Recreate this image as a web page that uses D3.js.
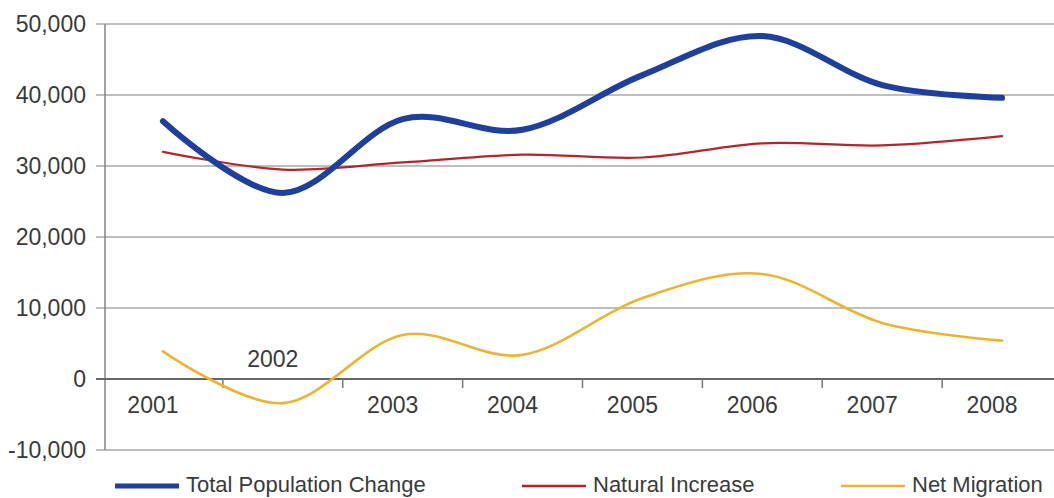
<!DOCTYPE html>
<html>
<head>
<meta charset="utf-8">
<script src="https://cdn.jsdelivr.net/npm/d3@7"></script>
<style>
  body { margin: 0; background: #fff; }
  svg { display: block; font-family: "Liberation Sans", Arial, sans-serif; }
</style>
</head>
<body>
<div class="chart"></div>
<script>
// data
var years = ["2001", "2002", "2003", "2004", "2005", "2006", "2007", "2008"];
var totalChange = [36300, 26200, 36600, 35100, 42800, 48300, 41400, 39600];
var naturalIncrease = [32000, 29500, 30500, 31600, 31200, 33200, 32900, 34200];
var netMigration = [3900, -3400, 6200, 3400, 11400, 14800, 7900, 5400];
var yTicks = [-10000, 0, 10000, 20000, 30000, 40000, 50000];

var svgWidth = 1054, svgHeight = 498;

var svg = d3.select(".chart")
  .append("svg")
  .attr("width", svgWidth)
  .attr("height", svgHeight);

// scales
var xScale = d3.scaleBand()
  .domain(years)
  .range([103, 1062]);

var yScale = d3.scaleLinear()
  .domain([-10000, 50000])
  .range([450, 24]);

// plain hyphen for negatives, like the original
var fmt = d3.formatLocale({ decimal: ".", thousands: ",", grouping: [3], currency: ["", ""], minus: "-" }).format(",");

// horizontal grid lines + y labels
var grid = svg.append("g");
grid.selectAll("line")
  .data(yTicks.filter(d => d !== 0))
  .enter()
  .append("line")
  .attr("x1", 96)
  .attr("x2", svgWidth)
  .attr("y1", d => yScale(d))
  .attr("y2", d => yScale(d))
  .attr("stroke", "#a8a8a8")
  .attr("stroke-width", 1.6);

svg.append("g").selectAll("text")
  .data(yTicks)
  .enter()
  .append("text")
  .attr("x", 86)
  .attr("y", d => yScale(d) + 8)
  .attr("text-anchor", "end")
  .attr("font-size", 23)
  .attr("fill", "#3a3a3a")
  .text(d => fmt(d));

// left axis line
svg.append("line")
  .attr("x1", 105).attr("x2", 105)
  .attr("y1", yScale(50000)).attr("y2", yScale(-10000))
  .attr("stroke", "#8a8a8a")
  .attr("stroke-width", 1.6);

// zero line with category ticks
var zeroY = yScale(0);
svg.append("line")
  .attr("x1", 96).attr("x2", svgWidth)
  .attr("y1", zeroY).attr("y2", zeroY)
  .attr("stroke", "#666")
  .attr("stroke-width", 1.8);

svg.append("g").selectAll("line")
  .data(years.slice(1))
  .enter()
  .append("line")
  .attr("x1", d => xScale(d))
  .attr("x2", d => xScale(d))
  .attr("y1", zeroY)
  .attr("y2", zeroY + 9)
  .attr("stroke", "#777")
  .attr("stroke-width", 1.5);

// year labels (2002 sits above the axis)
svg.append("g").selectAll("text")
  .data(years)
  .enter()
  .append("text")
  .attr("x", d => xScale(d) + xScale.bandwidth() / 2 - 10)
  .attr("y", d => d === "2002" ? zeroY - 12 : zeroY + 34)
  .attr("text-anchor", "middle")
  .attr("font-size", 23)
  .attr("fill", "#3a3a3a")
  .text(d => d);

// lines
var series = [
  { name: "Total Population Change", values: totalChange, color: "#1f3f9e", width: 6 },
  { name: "Natural Increase", values: naturalIncrease, color: "#b2262b", width: 2.2 },
  { name: "Net Migration", values: netMigration, color: "#ebb432", width: 2.6 }
];

var line = d3.line()
  .x((d, i) => xScale(years[i]) + xScale.bandwidth() / 2)
  .y(d => yScale(d))
  .curve(d3.curveCatmullRom.alpha(0));

// draw yellow, red first, blue on top
[series[2], series[1], series[0]].forEach(function(s) {
  svg.append("path")
    .datum(s.values)
    .attr("d", line)
    .attr("fill", "none")
    .attr("stroke", s.color)
    .attr("stroke-width", s.width)
    .attr("stroke-linecap", "round")
    .attr("stroke-linejoin", "round");
});

// legend
var legendX = [115, 522, 841];
var legend = svg.append("g");
series.forEach(function(s, i) {
  legend.append("line")
    .attr("x1", legendX[i]).attr("x2", legendX[i] + 64)
    .attr("y1", 486).attr("y2", 486)
    .attr("stroke", s.color)
    .attr("stroke-width", i === 0 ? 5 : 2.6);
  legend.append("text")
    .attr("x", legendX[i] + 71)
    .attr("y", 492)
    .attr("font-size", 22)
    .attr("fill", "#3a3a3a")
    .text(s.name);
});
</script>
</body>
</html>
